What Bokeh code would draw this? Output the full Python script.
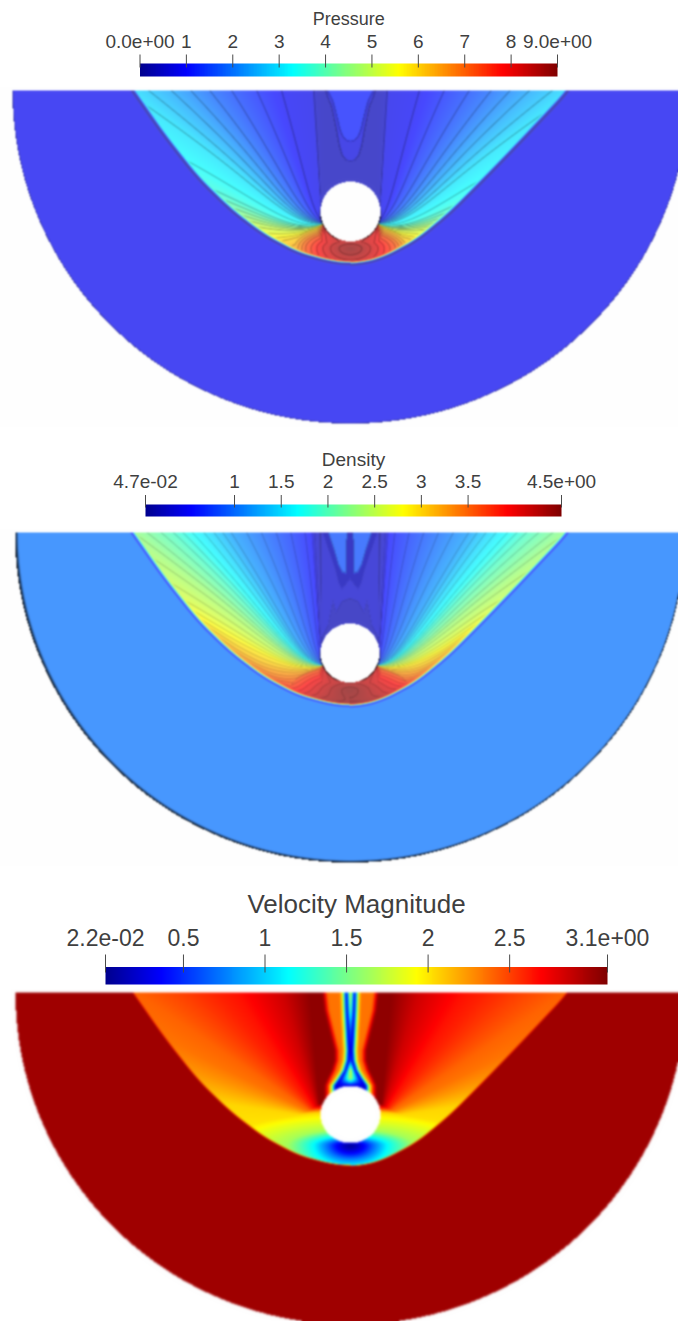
import numpy as np
from bokeh.embed import file_html
from bokeh.resources import INLINE
from bokeh.plotting import figure
from bokeh.models import Range1d, LinearColorMapper
from bokeh.core.properties import value

# ---------- values ----------
jet_pos = [0.0, 0.11, 0.365, 0.49, 0.62, 0.87, 1.0]
jet_r = [0.0, 0.0, 0.0, 0.5, 1.0, 1.0, 0.5]
jet_g = [0.0, 0.0, 1.0, 1.0, 1.0, 0.0, 0.0]
jet_b = [0.56, 1.0, 1.0, 0.5, 0.0, 0.0, 0.0]

shock_left_dx = [0, 20, 53, 87, 120, 153, 187, 217, 240]
shock_left_depth = [174, 172, 163, 145, 120, 88, 45, 2, -30]
shock_right_dx = [0, 10, 33, 67, 100, 133, 167, 217, 240]
shock_right_depth = [174, 174, 168, 150, 123, 90, 55, 2, -30]

fan_angle = [0, 3, 5, 17, 26, 34, 40, 44.5, 48.5, 52.5, 56, 63, 70, 82, 99, 141, 180, 230]
fan_pressure = [.35, .4, .8, .9, 1.2, 1.5, 1.8, 2.1, 2.4, 2.7, 3.0, 3.25, 3.6, 5.0, 6.0, 7.0, 8.0, 8.5]
fan_density = [.2, .3, .55, .8, 1.0, 1.2, 1.5, 1.7, 1.95, 2.15, 2.35, 2.6, 2.9, 3.2, 3.5, 3.8, 4.1, 4.3]
fan_velocity = [3.05, 3.05, 3.05, 2.85, 2.75, 2.65, 2.6, 2.55, 2.5, 2.45, 2.4, 2.35, 2.25, 2.05, 2.0, 2.0, 2.0, 2.0]

ring_e = [0, 15, 30, 45, 60, 75]
ring_pressure = [9.0, 8.6, 8.0, 7.2, 6.0, 0.0]
ring_density = [4.5, 4.35, 4.15, 3.9, 3.6, 0.0]
vring_e = [0, 8, 15, 23, 37, 63, 90, 110, 135, 170]
vring_v = [.05, .2, .4, .7, 1.15, 1.65, 1.8, 1.9, 2.05, 3.1]

u_dx = [0, 4, 8, 11, 14, 18, 19, 22, 24, 40]
u_outer_y = [161, 160, 155, 145, 128, 109, 105, 98, 92, 60]
u_inner_y = [141, 140, 136, 128, 115, 100, 98, 92, 88, 60]

w_dx = [0, 8, 11, 14, 20, 26, 40]
w_outer_depth = [46, 56, 50, 38, 20, 3, -30]
lobe_dx = [0, 2.5, 4, 8, 12, 16, 21, 30]
lobe_depth = [-10, -10, 41, 40, 32, 18, 3, -30]
tent_dx = [0, 8, 14, 17, 22, 30, 40]
tent_depth = [66, 69, 80, 68, 93, 108, 108]

jet_row = [992, 1010, 1030, 1050, 1060, 1070, 1078, 1085]
jet_blue = [4, 3.5, 2.5, 1.5, 2, 5, 10, 15]
jet_center = [2.0, 1.5, .7, .3, .6, 1.9, 1.7, .3]
jet_strip = [22, 20, 15, 10, 10, 13, 17, 20]
jet_prof_d = [0, 1.5, 3, 5, 7]
jet_prof_v = [.25, .8, 1.5, 2.1, 2.35]

pressure_title = "Pressure"
pressure_ticks = [0, 1, 2, 3, 4, 5, 6, 7, 8, 9]
pressure_labels = ["0.0e+00", "1", "2", "3", "4", "5", "6", "7", "8", "9.0e+00"]
density_title = "Density"
density_ticks = [0.047, 1, 1.5, 2, 2.5, 3, 3.5, 4.5]
density_labels = ["4.7e-02", "1", "1.5", "2", "2.5", "3", "3.5", "4.5e+00"]
velocity_title = "Velocity Magnitude"
velocity_ticks = [0.022, 0.5, 1, 1.5, 2, 2.5, 3.1]
velocity_labels = ["2.2e-02", "0.5", "1", "1.5", "2", "2.5", "3.1e+00"]

# ---------- helpers ----------
def Y(y):
    return 1321 - y

def jet(t):
    t = np.clip(t, 0, 1)
    return np.stack([np.interp(t, jet_pos, c) for c in (jet_r, jet_g, jet_b)], -1)

def sstep(a, b, x):
    s = np.clip((x - a) / (b - a), 0, 1)
    return s * s * (3 - 2 * s)

def smooth_table(dx, depth):
    fx = np.arange(0, 241.0)
    fy = np.interp(fx, dx, depth)
    n = 12
    k = np.ones(2 * n + 1) / (2 * n + 1)
    padded = np.concatenate([fy[n:0:-1], fy, fy[-1] + (fy[-1] - fy[-n - 1:-1][::-1])])
    s = np.convolve(padded, k, mode="valid")
    return fx, s

slx, sly = smooth_table(shock_left_dx, shock_left_depth)
srx, sry = smooth_table(shock_right_dx, shock_right_depth)

def blur(a, sigma=0.75):
    r = 4
    k = np.exp(-0.5 * (np.arange(-r, r + 1) / sigma) ** 2)
    k /= k.sum()
    a = np.pad(a, ((r, r), (r, r), (0, 0)), mode="edge")
    for ax in (0, 1):
        a = sum(w * np.roll(a, i - r, axis=ax) for i, w in enumerate(k))
    return a[r:-r, r:-r]

def render(kind, cx, top, bottom, cy, cr_x, cr_y, rx, ry):
    ys = np.arange(top - 3, min(bottom + 3, 1321)) + 0.5
    xs = np.arange(0, 678) + 0.5
    X, YY = np.meshgrid(xs, ys)
    dx = X - cx
    adx = np.abs(dx)
    depth = YY - top
    sd = np.where(dx < 0, np.interp(adx, slx, sly), np.interp(adx, srx, sry))
    slope = np.where(dx < 0, np.interp(adx, slx, np.gradient(sly)), np.interp(adx, srx, np.gradient(sry)))
    dist = (sd - depth) / np.sqrt(1 + slope ** 2)

    if kind == "v":
        y0, x0, c0 = top + 125, 30, 0
    else:
        y0, x0, c0 = top + 133, 27, 40
    xp = adx - x0
    h = y0 - YY
    r = np.hypot(xp, h)
    th = np.degrees(np.arctan2(xp, h))
    th = np.where(th < -90, th + 360, th)
    th = np.clip(th, 0, None)
    psi = th - c0 * np.exp(-r / 45) * np.sin(np.radians(np.clip(th, 0, 180)))
    psi = np.clip(psi, 0, None)
    dy = YY - (cy + (37 if kind != "v" else 31))
    e = np.hypot(adx, np.where(dy > 0, 1.8, 2.5 if kind != "v" else 4.0) * dy)

    if kind == "p":
        lo, hi, bg, step, wash, dark = 0, 9, 0.85, 0.3, 72, 0.32
        f = np.interp(psi, fan_angle, fan_pressure)
        f = np.maximum(f, np.interp(e, ring_e, ring_pressure))
        yo = np.interp(adx, u_dx, u_outer_y) + top - 90
        yi = np.interp(adx, u_dx, u_inner_y) + top - 90
        wake = .35 + .35 * sstep(1.5, -1.5, YY - yo) + .45 * sstep(1.5, -1.5, YY - yi)
        f = np.where(adx < 30, np.maximum(f, wake), f)
        ramp = sstep(0.3, 3.2, dist)
        field = f * ramp
        field = np.where(dist < 0, bg + (0.0 - bg) * sstep(-2.2, 0, dist), field)
    elif kind == "d":
        lo, hi, bg, step, wash, dark = 0.047, 4.5, 1.03, 0.12, 72, 0.2
        f = np.interp(psi, fan_angle, fan_density)
        f = np.maximum(f, np.interp(e, ring_e, ring_density))
        f = f + 0.45 * np.exp(-np.maximum(dist, 0) / 5.0) * sstep(60, 120, depth)
        yw = np.interp(adx, w_dx, w_outer_depth)
        yl = np.interp(adx, lobe_dx, lobe_depth)
        yt = np.interp(adx, tent_dx, tent_depth)
        wake = .2 + .1 * sstep(1.2, -1.2, depth - yt) + .18 * sstep(1.2, -1.2, depth - yw) + .37 * sstep(1.2, -1.2, depth - yl)
        f = np.where(adx < 29, np.maximum(f, wake), f)
        ramp = sstep(0.0, 3.0, dist)
        field = 0.6 + (f - 0.6) * ramp
        field = np.where(dist < 0, bg + (0.6 - bg) * sstep(-2.0, 0, dist), field)
    else:
        lo, hi, bg, step, wash, dark = 0.022, 3.1, 3.0, 0, 0, 0
        f = np.interp(psi, fan_angle, fan_velocity)
        f = np.minimum(f, np.interp(e, vring_e, vring_v))
        b = np.interp(YY, jet_row, jet_blue)
        c = np.interp(YY, jet_row, jet_center)
        w = np.interp(YY, jet_row, jet_strip)
        inner = c + (.25 - c) * np.clip(adx / b, 0, 1)
        outer = np.interp(adx - b, jet_prof_d, jet_prof_v)
        out2 = outer + (3.05 - outer) * sstep(w, w + 7, adx)
        jv = np.where(adx < b, inner, out2)
        f = np.where(YY < cy, np.minimum(f, jv), f)
        field = np.where(dist > 0, f + (bg - f) * sstep(1.6, 0, dist), bg)

    t = (field - lo) / (hi - lo)
    col = jet(t) * 255.0
    col = wash + (1 - wash / 255.0) * col
    if step:
        gy, gx = np.gradient(field)
        g = np.hypot(gx, gy) + 1e-6
        frac = field / step
        d = np.abs(frac - np.round(frac)) * step / g
        line = np.clip(1 - d / 0.9, 0, 1) * sstep(3, 5, dist)
        col = col * (1 - dark * line)[..., None]

    # half disc and cylinder cut out of the white page
    rho = np.sqrt((dx / rx) ** 2 + (depth / ry) ** 2)
    er = (rho - 1) * min(rx, ry)
    if kind == "d":
        th_out = np.clip((-dx / rx + 1) / 2, 0, 1)
        wid = 1.5 + 2.0 * th_out
        k = np.clip(1 + (er / wid), 0, 1) * 0.98
        col = col * (1 - k)[..., None]
    elif kind == "p":
        k = np.clip(1 + er / 1.2, 0, 1) * 0.4
        col = col * (1 - k)[..., None]
    rc = np.sqrt((dx / cr_x) ** 2 + ((YY - cy) / cr_y) ** 2)
    if kind != "v":
        ang = np.degrees(np.arctan2(adx, YY - cy))
        k = np.clip(1 - (rc - 1) * cr_x / 1.6, 0, 1) * sstep(15, 35, ang) * sstep(105, 75, ang)
        col = col * (1 - 0.95 * k)[..., None]
    white = (rho > 1) | (depth < 0) | (rc < 1)
    col[white] = 255.0
    col = blur(col, 0.8 if kind != "v" else 1.1)
    rgba = np.zeros(col.shape[:2], dtype=np.uint32)
    view = rgba.view(np.uint8).reshape(col.shape[0], col.shape[1], 4)
    view[..., :3] = np.clip(col, 0, 255).astype(np.uint8)
    view[..., 3] = 255
    return rgba[::-1], ys[0] - 0.5, ys[-1] + 0.5

p = figure(width=678, height=1321, x_range=Range1d(0, 678), y_range=Range1d(0, 1321),
           x_axis_type=None, y_axis_type=None, output_backend="svg", toolbar_location=None,
           min_border=0, outline_line_color=None)
p.grid.visible = False
p.background_fill_color = "white"

panels = [("p", 350, 90, 423, 211, 30, 30, 338, 333),
          ("d", 349.5, 532, 862, 652.5, 29.5, 29.5, 335, 330),
          ("v", 350, 992, 1324, 1114, 30, 28.5, 335, 332)]
for kind, cx, top, bottom, cy, crx, cry, rx, ry in panels:
    img, y1, y2 = render(kind, cx, top, bottom, cy, crx, cry, rx, ry)
    p.image_rgba(image=[img], x=0, y=Y(y2), dw=678, dh=y2 - y1)

jet256 = ["#%02x%02x%02x" % tuple(int(round(c * 255)) for c in row) for row in jet(np.linspace(0, 1, 256))]
bars = [(pressure_title, pressure_ticks, pressure_labels, 139.5, 557, 63, 76, 54, 67, 41, 18, 19, 18),
        (density_title, density_ticks, density_labels, 145, 561, 504, 516, 494.5, 507, 481, 459, 19, 19),
        (velocity_title, velocity_ticks, velocity_labels, 105, 607, 966.5, 984, 954, 972, 936.5, 903, 23, 26)]
for title, ticks, labels, x0, x1, b0, b1, t0, t1, ly, ty, lfs, tfs in bars:
    lo, hi = ticks[0], ticks[-1]
    mapper = LinearColorMapper(palette=jet256, low=0, high=1)
    p.image(image=[np.linspace(0, 1, 256).reshape(1, 256)], x=x0, y=Y(b1), dw=x1 - x0, dh=b1 - b0,
            color_mapper=mapper)
    tx = [x0 + (v - lo) / (hi - lo) * (x1 - x0) for v in ticks]
    p.segment(x0=tx, x1=tx, y0=[Y(t0)] * len(tx), y1=[Y(t1)] * len(tx), line_color="#4a4a4a", line_width=1)
    p.text(x=tx, y=[Y(ly)] * len(tx), text=labels, text_align="center", text_baseline="middle",
           text_color="#3f3f3f", text_font=value("Liberation Sans"), text_font_size=f"{lfs}px")
    p.text(x=[(x0 + x1) / 2], y=[Y(ty)], text=[title], text_align="center", text_baseline="middle",
           text_color="#3f3f3f", text_font=value("Liberation Sans"), text_font_size=f"{tfs}px")

open("out.html", "w").write(file_html(p, INLINE))
